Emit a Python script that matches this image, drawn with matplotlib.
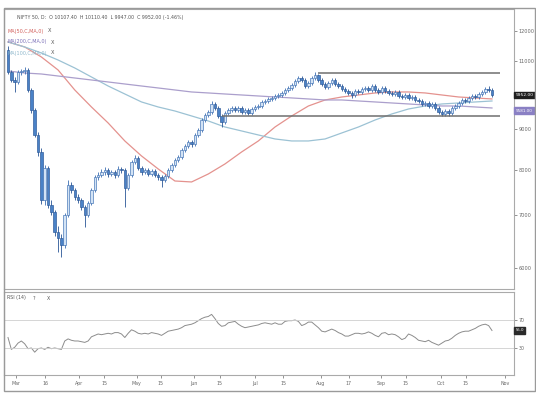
import matplotlib
matplotlib.use("Agg")
import matplotlib.pyplot as plt
import numpy as np
from matplotlib.patches import Rectangle
from matplotlib.transforms import blended_transform_factory
from matplotlib.ticker import NullLocator, FixedLocator, FixedFormatter

# ---------------- data ----------------
first_open = 11352
closes = [10645, 10398, 10338, 10645, 10676, 10707, 10099, 9525, 8854, 8425,
          7321, 8039, 7215, 7069, 6667, 6551, 6419, 7007, 7649, 7538,
          7386, 7321, 7173, 7007, 7257, 7538, 7830, 7876, 7946, 7992,
          7899, 7946, 7876, 8016, 7992, 7582, 7876, 8182, 8278, 8039,
          7946, 7992, 7899, 7969, 7876, 7830, 7762, 7853, 7992, 8110,
          8230, 8303, 8474, 8574, 8675, 8624, 8854, 8984, 9251, 9387,
          9470, 9694, 9581, 9360, 9197, 9442, 9525, 9581, 9525, 9581,
          9470, 9525, 9442, 9553, 9609, 9637, 9751, 9779, 9837, 9866,
          9923, 9952, 10011, 10099, 10158, 10247, 10368, 10459, 10398, 10217,
          10307, 10459, 10551, 10398, 10277, 10188, 10307, 10398, 10277, 10217,
          10129, 10070, 10011, 9952, 10070, 10040, 10129, 10158, 10099, 10217,
          10099, 10040, 10158, 10070, 10011, 9981, 10040, 9923, 9894, 9952,
          9866, 9894, 9808, 9779, 9694, 9722, 9637, 9694, 9581, 9470,
          9415, 9497, 9442, 9581, 9637, 9722, 9808, 9779, 9866, 9923,
          9894, 9981, 10040, 10129, 10099, 9952]
highs = [11486, 10707, 10490, 10707, 10738, 10801, 10770, 10158, 9581, 8932,
         8524, 8110, 8086, 7321, 7110, 6785, 6628, 7048, 7762, 7717,
         7582, 7451, 7364, 7215, 7300, 7582, 7876, 7946, 8016, 8063,
         8039, 7992, 7992, 8086, 8063, 8039, 7922, 8230, 8351, 8327,
         8086, 8039, 8039, 8016, 8016, 7922, 7876, 7899, 8039, 8158,
         8278, 8351, 8524, 8624, 8725, 8725, 8906, 9037, 9305, 9442,
         9525, 9779, 9751, 9637, 9415, 9497, 9581, 9637, 9637, 9637,
         9637, 9581, 9581, 9609, 9665, 9694, 9808, 9837, 9894, 9923,
         9981, 10011, 10070, 10158, 10217, 10307, 10429, 10520, 10520, 10459,
         10368, 10520, 10645, 10582, 10459, 10338, 10368, 10459, 10459, 10338,
         10277, 10188, 10129, 10070, 10129, 10129, 10188, 10217, 10217, 10277,
         10277, 10158, 10217, 10217, 10129, 10070, 10099, 10099, 9981, 10011,
         10011, 9952, 9952, 9866, 9837, 9779, 9779, 9751, 9751, 9637,
         9525, 9553, 9553, 9637, 9694, 9779, 9866, 9866, 9923, 9981,
         9981, 10040, 10099, 10188, 10217, 10158]
lows = [10582, 10338, 10040, 10277, 10551, 10582, 10040, 9442, 8802, 8327,
        7236, 7215, 7152, 7007, 6590, 6288, 6197, 6363, 6966, 7473,
        7321, 7257, 7110, 6766, 6966, 7215, 7494, 7762, 7830, 7876,
        7830, 7853, 7808, 7830, 7922, 7173, 7538, 7830, 8134, 7992,
        7876, 7899, 7853, 7853, 7830, 7762, 7605, 7717, 7808, 7946,
        8063, 8182, 8254, 8425, 8524, 8549, 8574, 8802, 8932, 9197,
        9333, 9415, 9525, 9305, 9063, 9143, 9387, 9470, 9470, 9470,
        9415, 9415, 9387, 9387, 9497, 9553, 9581, 9694, 9722, 9779,
        9808, 9866, 9894, 9952, 10040, 10099, 10188, 10307, 10338, 10158,
        10158, 10247, 10398, 10338, 10217, 10129, 10129, 10247, 10217, 10158,
        10070, 10011, 9952, 9866, 9894, 9981, 9981, 10070, 10040, 10040,
        10040, 9981, 9981, 10011, 9952, 9923, 9923, 9866, 9837, 9837,
        9808, 9808, 9751, 9722, 9637, 9637, 9581, 9581, 9525, 9415,
        9360, 9360, 9360, 9387, 9525, 9581, 9665, 9722, 9722, 9808,
        9837, 9837, 9923, 9981, 10040, 9894]

ma_idx = list(range(0, 146, 5))
ma50 = [11620, 11452, 11122, 10707, 10099, 9609, 9170, 8700, 8327, 8016,
        7739, 7717, 7899, 8134, 8425, 8700, 9063, 9360, 9637, 9808,
        9894, 9952, 10011, 10040, 10040, 10011, 9952, 9894, 9866, 9837]
ma100 = [11620, 11452, 11253, 11024, 10770, 10490, 10217, 9981, 9751, 9609,
         9497, 9360, 9224, 9063, 8958, 8854, 8751, 8700, 8700, 8751,
         8906, 9063, 9251, 9415, 9553, 9637, 9694, 9722, 9751, 9779]
ma200 = [10676, 10613, 10582, 10520, 10459, 10398, 10338, 10277, 10217, 10158,
         10099, 10040, 10011, 9981, 9952, 9923, 9894, 9866, 9837, 9808,
         9808, 9779, 9751, 9722, 9694, 9665, 9637, 9637, 9609, 9581]

rsi = [45, 28, 31, 37, 40, 36, 29, 30, 24, 29,
       30, 28, 31, 29, 30, 29, 28, 40, 43, 41,
       40, 40, 39, 38, 40, 46, 48, 50, 49, 50,
       51, 50, 52, 52, 50, 45, 51, 56, 54, 51,
       50, 51, 50, 52, 51, 50, 48, 51, 54, 55,
       56, 57, 59, 62, 63, 64, 66, 69, 72, 74,
       75, 78, 72, 65, 61, 62, 66, 67, 68, 64,
       61, 59, 60, 61, 62, 63, 65, 66, 65, 64,
       66, 64, 64, 68, 69, 69, 70, 68, 62, 64,
       67, 67, 63, 59, 54, 53, 55, 57, 55, 52,
       50, 47, 47, 49, 51, 51, 50, 51, 53, 51,
       48, 46, 51, 52, 49, 50, 49, 46, 42, 44,
       50, 48, 45, 41, 40, 39, 41, 38, 36, 34,
       37, 40, 41, 44, 48, 51, 53, 54, 54, 56,
       58, 61, 63, 64, 62, 55]

resistance = 10613
support = 9360
resistance_span = (92.9, 147.4)
support_span = (64.1, 147.4)

xtick_pos = [2.4, 11.1, 21.3, 28.8, 38.6, 45.8, 55.7, 63.5, 74.0, 82.4,
             93.8, 102.1, 111.7, 119.2, 129.7, 137.2, 148.9]
xtick_labels = ["Mar", "16", "Apr", "15", "May", "15", "Jun", "15", "Jul", "15",
                "Aug", "17", "Sep", "15", "Oct", "15", "Nov"]
ytick_vals = [6000, 7000, 8000, 9000, 10000, 11000, 12000]
ytick_labels = ["6000", "7000", "8000", "9000", "", "11000", "12000"]  # 10000 sits under the price tag
rsi_levels = [70, 30]

# ---------------- figure ----------------
W, H = 536, 394
fig = plt.figure(figsize=(W / 100, H / 100), dpi=100)
fig.patch.set_facecolor("white")

def fx(px):
    return px / W

def fy(py):
    return 1 - py / H

ax = fig.add_axes([fx(4), fy(289), fx(514) - fx(4), fy(9) - fy(289)])
ax2 = fig.add_axes([fx(4), fy(375), fx(514) - fx(4), fy(292) - fy(375)], sharex=ax)

n = len(closes)
idx = np.arange(n)
opens = np.array([first_open] + closes[:-1])  # each session opens at prior close
c = np.array(closes)
hi = np.array(highs)
lo = np.array(lows)
up = c >= opens

up_fill, up_edge = "#d3e3f5", "#3d6fb3"
dn_fill, dn_edge = "#4a82c7", "#2a5696"

edge_cols = np.where(up, up_edge, dn_edge)
fill_cols = np.where(up, up_fill, dn_fill)

ax.vlines(idx, lo, hi, colors=edge_cols, linewidth=0.6, zorder=3)
ax.bar(idx, np.abs(c - opens), bottom=np.minimum(c, opens), width=0.75,
       color=fill_cols, edgecolor=edge_cols, linewidth=0.45, zorder=4)

ax.plot(ma_idx, ma50, color="#e4928e", lw=0.9, zorder=2)
ax.plot(ma_idx, ma100, color="#9cc2d4", lw=0.9, zorder=2)
ax.plot(ma_idx, ma200, color="#ab9fcc", lw=0.9, zorder=2)

ax.hlines(resistance, *resistance_span, color="#6f6f6f", lw=1.1, zorder=5)
ax.hlines(support, *support_span, color="#6f6f6f", lw=1.1, zorder=5)

ax.set_yscale("log")
ax.set_ylim(5643, 12797)
ax.set_xlim(-1.2, 151.6)
ax.yaxis.tick_right()
ax.yaxis.set_major_locator(FixedLocator(ytick_vals))
ax.yaxis.set_major_formatter(FixedFormatter(ytick_labels))
ax.yaxis.set_minor_locator(NullLocator())
ax.tick_params(axis="y", which="major", labelsize=3.6, colors="#666666",
               length=2, width=0.5, pad=1.5)
ax.tick_params(axis="x", which="both", bottom=False, labelbottom=False)
for s in ax.spines.values():
    s.set_color("#aaaaaa")
    s.set_linewidth(0.8)

tr = blended_transform_factory(ax.transAxes, ax.transData)
ax.text(1.003, closes[-1], "%.2f" % closes[-1], transform=tr, fontsize=3.2,
        color="white", va="center", ha="left", zorder=10, clip_on=False,
        bbox=dict(facecolor="#1e1e1e", edgecolor="#1e1e1e", pad=0.9))
ax.text(1.003, ma200[-1] * 0.992, "%.2f" % ma200[-1], transform=tr, fontsize=3.0,
        color="white", va="center", ha="left", zorder=10, clip_on=False,
        bbox=dict(facecolor="#8a80c4", edgecolor="#8a80c4", pad=0.9))

# RSI panel
ax2.plot(idx, rsi, color="#8c8c8c", lw=0.7)
for lv in rsi_levels:
    ax2.axhline(lv, color="#cfcfcf", lw=0.6)
ax2.set_ylim(-8.6, 110)
ax2.yaxis.tick_right()
ax2.set_yticks(rsi_levels)
ax2.set_yticklabels([str(v) for v in rsi_levels])
ax2.tick_params(axis="y", labelsize=3.4, colors="#666666", length=2, width=0.5, pad=1.5)
ax2.set_xticks(xtick_pos)
ax2.set_xticklabels(xtick_labels)
ax2.tick_params(axis="x", labelsize=3.4, colors="#666666", length=2.5, width=0.5, pad=2)
for s in ax2.spines.values():
    s.set_color("#aaaaaa")
    s.set_linewidth(0.8)
tr2 = blended_transform_factory(ax2.transAxes, ax2.transData)
ax2.text(1.003, rsi[-1], "%.1f" % rsi[-1], transform=tr2, fontsize=2.8,
         color="white", va="center", ha="left", zorder=10, clip_on=False,
         bbox=dict(facecolor="#2a2a2a", edgecolor="#2a2a2a", pad=0.9))

# header texts
fig.text(fx(17), fy(18), "NIFTY 50, D:  O 10107.40  H 10110.40  L 9947.00  C 9952.00 (-1.46%)",
         fontsize=3.4, color="#555555", va="center", ha="left")
fig.text(fx(7), fy(31), "MA(50,C,MA,0)", fontsize=3.5, color="#d2605c", va="center")
fig.text(fx(48), fy(31), "X", fontsize=3.6, color="#555555", va="center")
fig.text(fx(7), fy(42), "MA(200,C,MA,0)", fontsize=3.5, color="#7c70b8", va="center")
fig.text(fx(51), fy(42), "X", fontsize=3.6, color="#555555", va="center")
fig.text(fx(7), fy(53), "MA(100,C,MA,0)", fontsize=3.5, color="#8fb8cc", va="center")
fig.text(fx(51), fy(53), "X", fontsize=3.6, color="#555555", va="center")
fig.text(fx(7), fy(298), "RSI (14)", fontsize=3.4, color="#555555", va="center")
fig.text(fx(33), fy(298), "?", fontsize=3.4, color="#555555", va="center")
fig.text(fx(47), fy(298), "X", fontsize=3.4, color="#555555", va="center")

# outer frame
fig.add_artist(Rectangle((fx(4), fy(391)), fx(535) - fx(4), fy(8) - fy(391),
                         transform=fig.transFigure, fill=False,
                         edgecolor="#9a9a9a", lw=1.0))

fig.savefig("out.png", dpi=100, facecolor="white")
